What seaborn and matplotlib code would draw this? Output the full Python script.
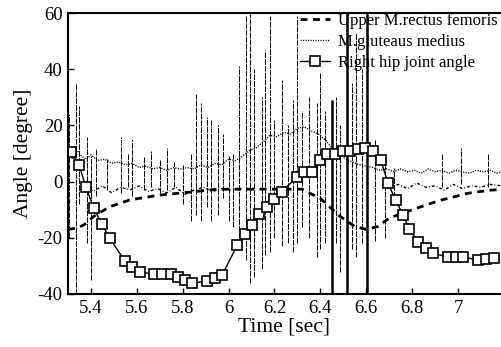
"""
plot.py - hip joint angle vs. EMG traces (recreation)
"""
import matplotlib

matplotlib.use("Agg")

import matplotlib.pyplot as plt
import seaborn as sns

# Right hip joint angle (square markers)
hip_t = [5.313, 5.348, 5.378, 5.412, 5.447, 5.482, 5.547, 5.579, 5.614, 5.675,
         5.710, 5.747, 5.778, 5.810, 5.842, 5.904, 5.941, 5.972, 6.038, 6.071,
         6.101, 6.134, 6.166, 6.198, 6.231, 6.297, 6.329, 6.362, 6.398, 6.430,
         6.464, 6.497, 6.529, 6.563, 6.594, 6.628, 6.663, 6.695, 6.728, 6.761,
         6.788, 6.827, 6.860, 6.892, 6.958, 6.991, 7.023, 7.088, 7.122, 7.157]
hip_v = [10.5, 6.0, -1.9, -9.4, -15.1, -20.1, -28.2, -30.4, -32.2, -32.9,
         -32.9, -32.9, -33.8, -35.0, -36.1, -35.4, -34.3, -33.2, -22.6, -18.6,
         -15.4, -11.6, -8.9, -6.2, -3.6, 1.5, 3.5, 3.5, 7.7, 9.8,
         9.8, 11.0, 11.0, 11.5, 11.9, 10.9, 7.7, -0.6, -6.5, -11.9,
         -17.0, -21.4, -23.7, -25.5, -26.9, -26.9, -26.9, -27.9, -27.7, -27.3]

# Upper M.rectus femoris (dashed envelope)
rectus_t = [5.30, 5.34, 5.37, 5.41, 5.48, 5.57, 5.70, 5.85, 5.95, 6.05,
            6.15, 6.25, 6.32, 6.40, 6.48, 6.55, 6.60, 6.65, 6.70, 6.75,
            6.82, 6.88, 6.93, 6.98, 7.04, 7.10, 7.15, 7.19]
rectus_v = [-17, -16.5, -15.4, -12.5, -9, -6.5, -4.8, -3.6, -2.7, -2.7,
            -2.7, -2.7, -2.7, -6, -12, -16, -17, -16, -13, -11.5,
            -9.5, -7.8, -6.5, -5.5, -4.2, -3.5, -3, -2.8]

# raw rectus band near baseline (two stretches)
raw_t1 = [5.37, 5.41, 5.45, 5.49, 5.53, 5.57, 5.61, 5.65, 5.69, 5.73,
          5.77, 5.81, 5.85, 5.89, 5.93, 5.97, 6.01]
raw_v1 = [-1, -3.5, -1.5, -4, -2, -3, -1.5, -3.5, -2.5, -4,
          -2, -4.5, -3, -2, -3.5, -2.5, -3]
raw_t2 = [6.70, 6.74, 6.78, 6.82, 6.86, 6.90, 6.94, 6.98, 7.02, 7.06,
          7.10, 7.14, 7.19]
raw_v2 = [-2, -1, -2.5, -0.5, -2, -1.5, -3, -1, -2.5, -1.5,
          -2, -1, -1.5]

# M.gluteaus medius (dotted)
glut_t = [5.30, 5.32, 5.34, 5.36, 5.38, 5.40, 5.43, 5.46, 5.49, 5.52,
          5.55, 5.58, 5.61, 5.64, 5.67, 5.70, 5.73, 5.76, 5.79, 5.82,
          5.85, 5.88, 5.91, 5.94, 5.97, 6.00, 6.03, 6.06, 6.09, 6.12,
          6.15, 6.18, 6.21, 6.24, 6.27, 6.30, 6.33, 6.36, 6.39, 6.42,
          6.45, 6.48, 6.51, 6.54, 6.57, 6.60, 6.63, 6.66, 6.69, 6.72,
          6.75, 6.78, 6.81, 6.84, 6.87, 6.90, 6.93, 6.96, 6.99, 7.02,
          7.05, 7.08, 7.11, 7.14, 7.17, 7.19]
glut_v = [10, 8, 11, 9, 8, 9.5, 7.5, 8, 6.5, 7,
          6, 6.5, 5, 5.5, 4.5, 5, 4, 5, 4.5, 5,
          4.5, 6, 5, 6.5, 6, 8, 7.5, 9, 11, 12,
          14, 16.5, 16, 17.5, 17, 19, 19.5, 18, 17, 15,
          12, 10, 8, 7, 6, 5.5, 5, 4, 4.5, 3.5,
          4.5, 3.5, 4, 3, 4.5, 3.5, 4, 3, 4, 3.5,
          3, 4, 3.5, 4, 3, 3.5]

# EMG spikes: time, lowest, highest
spike_t = [5.305, 5.335, 5.35, 5.385, 5.40, 5.42, 5.47, 5.53, 5.56, 5.58,
           5.63, 5.66, 5.70, 5.73, 5.76, 5.80, 5.835, 5.86, 5.88, 5.905,
           5.925, 5.955, 5.975, 6.00, 6.02, 6.045, 6.075, 6.093, 6.11, 6.144,
           6.16, 6.18, 6.20, 6.231, 6.26, 6.282, 6.30, 6.318, 6.35, 6.384,
           6.40, 6.42, 6.47, 6.485, 6.54, 6.555, 6.58, 6.638, 6.68, 6.72,
           6.93, 7.015, 7.13]
spike_lo = [-20, -40, -8, -22, -35, -5, -3, -4, -2, -5,
            -3, -2, -4, -3, -2, -8, -14, -12, -14, -9,
            -14, -12, -6, -14, -16, -20, -28, -36, -34, -31,
            -26, -25, -20, -23, -22, -25, -22, -16, -20, -27,
            -24, -22, -22, -32, -24, -27, -22, -21, -20, -8,
            -2, -1, -2]
spike_hi = [24, 35, 27, 16, 9, 12, 8, 16, 10, 15,
            9, 11, 8, 12, 7, 6, 10, 31, 28, 23,
            22, 20, 17, 9, 10, 41, 59, 60, 40, 30,
            47, 59, 22, 36, 20, 29, 59, 25, 30, 28,
            39, 25, 30, 20, 35, 53, 40, 15, 8, 5,
            10, 12, 10]
thick_t = [6.449, 6.515, 6.605]
thick_lo = [-40, -40, -40]
thick_hi = [29, 60, 60]

sns.set_theme(style="ticks")
plt.rcParams["font.family"] = ["Liberation Serif", "DejaVu Serif"]
plt.rcParams["axes.unicode_minus"] = False
plt.rcParams["text.color"] = "black"
plt.rcParams["axes.labelcolor"] = "black"

fig = plt.figure(figsize=(5.01, 3.47), dpi=100)
ax = fig.add_axes([68 / 501, 53 / 347, 433 / 501, 281 / 347])

ax.vlines(spike_t, spike_lo, spike_hi, color="black", linewidth=0.7,
          linestyles=(0, (6, 1)))
ax.vlines(thick_t, thick_lo, thick_hi, color="black", linewidth=1.8)

sns.lineplot(x=raw_t1, y=raw_v1, ax=ax, color="black", linewidth=1.0,
             linestyle=(0, (2, 1.5, 0.6, 1.5)), legend=False)
sns.lineplot(x=raw_t2, y=raw_v2, ax=ax, color="black", linewidth=1.0,
             linestyle=(0, (2, 1.5, 0.6, 1.5)), legend=False)

sns.lineplot(x=rectus_t, y=rectus_v, ax=ax, color="black", linewidth=2.0,
             linestyle=(0, (2.5, 2.0)), label="Upper M.rectus femoris")
sns.lineplot(x=glut_t, y=glut_v, ax=ax, color="black", linewidth=1.0,
             linestyle=(0, (0.8, 1.0)), label="M.gluteaus medius")
sns.lineplot(x=hip_t, y=hip_v, ax=ax, color="black", linewidth=1.0,
             marker="s", markersize=6.5, markerfacecolor="white",
             markeredgecolor="black", markeredgewidth=1.2,
             label="Right hip joint angle")

ax.set_xlim(5.3, 5.3 + 433 / 229.4)
ax.set_ylim(-40, 60)
ax.set_xticks([5.4, 5.6, 5.8, 6.0, 6.2, 6.4, 6.6, 6.8, 7.0])
ax.set_xticklabels(["5.4", "5.6", "5.8", "6", "6.2", "6.4", "6.6", "6.8", "7"])
ax.set_yticks([-40, -20, 0, 20, 40, 60])
ax.tick_params(direction="in", length=4, width=1, labelsize=13.5,
               colors="black", pad=4)
ax.set_xlabel("Time [sec]", fontsize=15.5, labelpad=1, color="black")
ax.set_ylabel("Angle [degree]", fontsize=15.5, labelpad=3, color="black")
for side in ["left", "top", "bottom"]:
    ax.spines[side].set_linewidth(1.5)
    ax.spines[side].set_color("black")
ax.spines["right"].set_visible(False)

ax.legend(loc="upper left", bbox_to_anchor=(0.536, 1.0), frameon=False,
          fontsize=12, handlelength=1.8, handletextpad=0.45, labelspacing=0.3,
          borderpad=0.0, borderaxespad=0.0, labelcolor="black")

fig.savefig("out.png", dpi=100)
